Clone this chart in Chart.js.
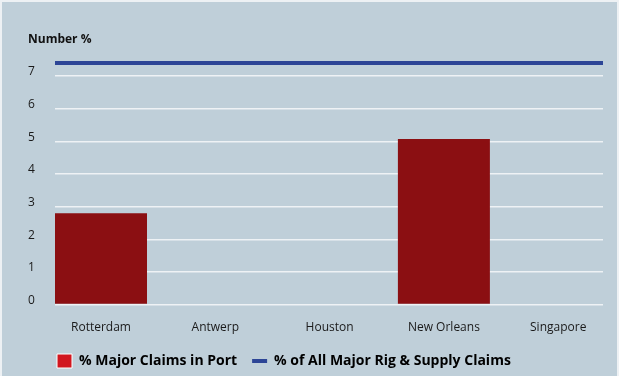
<!DOCTYPE html>
<html>
<head>
<meta charset="utf-8">
<script src="https://cdn.jsdelivr.net/npm/chart.js@4/dist/chart.umd.min.js"></script>
<style>
  html, body { margin: 0; padding: 0; background: #edf1f4; }
  .wrap { position: absolute; left: 2px; top: 2px; width: 615px; height: 374px; background: #bfcfd9; }
</style>
</head>
<body>
<div class="wrap"><canvas id="chart"></canvas></div>
<script>
// data
const ports = ["Rotterdam", "Antwerp", "Houston", "New Orleans", "Singapore"];
const majorClaimsInPort = [2.8, 0, 0, 5.07, 0];
const allRigSupplyShare = 7.4;
const yTicks = [0, 1, 2, 3, 4, 5, 6, 7];

// x range so the category centres sit where the original has them
const xMin = -0.4025;
const xMax = 4.392;

const fontFamily = "'Open Sans', 'Noto Sans', sans-serif";

// push the legend to where the original has it
const legendNudge = {
    id: "legendNudge",
    afterLayout(chart) {
        const lg = chart.legend;
        if (!lg) return;
        lg.left += 14;
        lg.right += 14;
        lg.top -= 4;
        lg.bottom -= 4;
    }
};

const ctx = document.getElementById("chart");
new Chart(ctx, {
    data: {
        datasets: [
            {
                type: "bar",
                label: "% Major Claims in Port",
                data: majorClaimsInPort.map((v, i) => ({ x: i, y: v })),
                backgroundColor: "#8b0f12",
                borderWidth: 0,
                inflateAmount: 0,
                barThickness: 92,
                order: 2
            },
            {
                type: "line",
                label: "% of All Major Rig & Supply Claims",
                data: [{ x: xMin, y: allRigSupplyShare }, { x: xMax, y: allRigSupplyShare }],
                borderColor: "#2c4596",
                borderWidth: 4,
                pointRadius: 0,
                order: 1
            }
        ]
    },
    options: {
        responsive: true,
        maintainAspectRatio: false,
        animation: false,
        layout: { padding: { left: 26, right: 14, top: 0, bottom: -6 } },
        plugins: {
            title: {
                display: true,
                text: "Number %",
                align: "start",
                color: "#111",
                font: { family: fontFamily, size: 12, weight: "bold" },
                padding: { top: 30, bottom: 13.3 }
            },
            legend: {
                position: "bottom",
                align: "start",
                labels: {
                    usePointStyle: true,
                    pointStyleWidth: 15,
                    boxHeight: 14,
                    padding: 15,
                    color: "#111",
                    font: { family: fontFamily, size: 14, weight: "bold" },
                    generateLabels: () => [
                        { text: "% Major Claims in Port", pointStyle: "rect", fillStyle: "#d1161f", strokeStyle: "#ffffff", lineWidth: 1, datasetIndex: 0 },
                        { text: "% of All Major Rig & Supply Claims", pointStyle: "line", fillStyle: "#2c4596", strokeStyle: "#2c4596", lineWidth: 4, datasetIndex: 1 }
                    ]
                }
            },
            tooltip: { enabled: false }
        },
        scales: {
            x: {
                type: "linear",
                min: xMin,
                max: xMax,
                offset: false,
                grid: { display: false, offset: false },
                border: { display: false },
                ticks: {
                    stepSize: 1,
                    includeBounds: false,
                    padding: 8,
                    color: "#1a1a1a",
                    font: { family: fontFamily, size: 12 },
                    callback: v => ports[v] ?? ""
                }
            },
            y: {
                min: 0,
                max: 7.5,
                border: { display: false },
                grid: { color: "#eef2f5", lineWidth: 1.5, drawTicks: false },
                afterFit: scale => { scale.width = 27; },
                ticks: {
                    stepSize: 1,
                    includeBounds: false,
                    crossAlign: "far",
                    labelOffset: -4,
                    color: "#1a1a1a",
                    font: { family: fontFamily, size: 12 },
                    callback: v => yTicks.includes(v) ? v : ""
                }
            }
        }
    },
    plugins: [legendNudge]
});
</script>
</body>
</html>
